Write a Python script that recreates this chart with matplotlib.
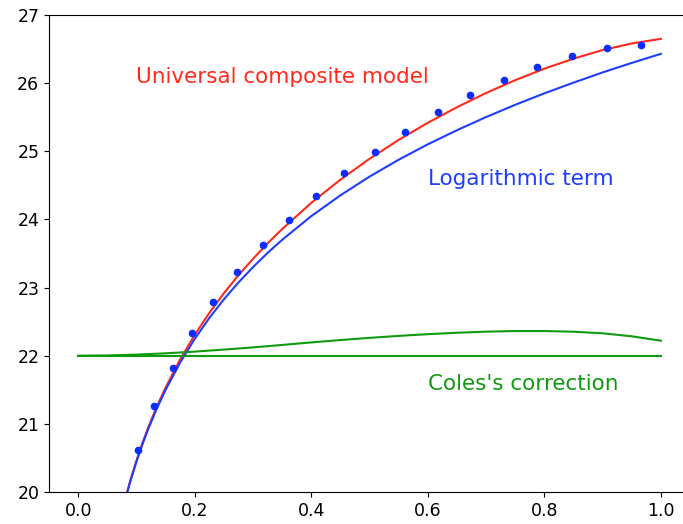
import numpy as np
import matplotlib
matplotlib.use('Agg')
import matplotlib.pyplot as plt

# measured velocity points
data_x = [0.103, 0.130, 0.162, 0.196, 0.232, 0.272, 0.317, 0.361, 0.408, 0.457,
          0.509, 0.561, 0.617, 0.672, 0.730, 0.788, 0.847, 0.907, 0.966]
data_y = [20.62, 21.26, 21.82, 22.33, 22.79, 23.23, 23.62, 23.99, 24.35, 24.68,
          24.99, 25.29, 25.57, 25.82, 26.05, 26.24, 26.40, 26.51, 26.56]

# curves
curve_x = [0.08, 0.09, 0.10, 0.11, 0.12, 0.135, 0.15, 0.175, 0.20, 0.225, 0.25, 0.275,
           0.30, 0.325, 0.35, 0.40, 0.45, 0.50, 0.55, 0.60, 0.65, 0.70, 0.75, 0.80,
           0.85, 0.90, 0.95, 1.00]
log_y = [19.863, 20.169, 20.443, 20.692, 20.918, 21.224, 21.497, 21.899, 22.246, 22.553,
         22.826, 23.074, 23.299, 23.508, 23.700, 24.048, 24.353, 24.628, 24.876, 25.102,
         25.309, 25.502, 25.682, 25.850, 26.007, 26.157, 26.297, 26.430]
model_y = [19.873, 20.182, 20.459, 20.711, 20.941, 21.253, 21.532, 21.946, 22.306, 22.627,
           22.916, 23.180, 23.421, 23.648, 23.858, 24.243, 24.583, 24.890, 25.167, 25.418,
           25.646, 25.855, 26.044, 26.212, 26.359, 26.486, 26.582, 26.650]

coles_x = [0.0, 0.05, 0.10, 0.15, 0.20, 0.25, 0.30, 0.35, 0.40, 0.45, 0.50,
           0.55, 0.60, 0.65, 0.70, 0.75, 0.80, 0.85, 0.90, 0.95, 1.00]
coles_y = [22.0, 22.004, 22.016, 22.035, 22.06, 22.09, 22.122, 22.158, 22.195, 22.23, 22.262,
           22.291, 22.316, 22.337, 22.353, 22.362, 22.362, 22.352, 22.329, 22.285, 22.22]
base_x = [0.0, 1.0]
base_y = [22.0, 22.0]

red = '#ff2a1a'
blue = '#1f3dff'
green = '#109a10'

fig = plt.figure(figsize=(6.83, 5.24), dpi=100)
ax = fig.add_axes([49 / 683, 32 / 524, 641 / 683, 477 / 524])

ax.plot(curve_x, model_y, color=red, lw=1.5)
ax.plot(curve_x, log_y, color=blue, lw=1.5)
ax.plot(coles_x, coles_y, color=green, lw=1.5)
ax.plot(base_x, base_y, color=green, lw=1.5)
ax.plot(data_x, data_y, 'o', color='#0a2cff', ms=4.5)

ax.text(0.1, 26.0, 'Universal composite model', color=red, fontsize=15.5)
ax.text(0.6, 24.5, 'Logarithmic term', color=blue, fontsize=15.5)
ax.text(0.6, 21.5, "Coles's correction", color=green, fontsize=15.5)

ax.set_xlim(-0.05, 1.05)
ax.set_ylim(20, 27)
ax.set_xticks([0.0, 0.2, 0.4, 0.6, 0.8, 1.0])
ax.tick_params(labelsize=12.5)
ax.spines['right'].set_visible(False)

plt.savefig('out.png', dpi=100)
